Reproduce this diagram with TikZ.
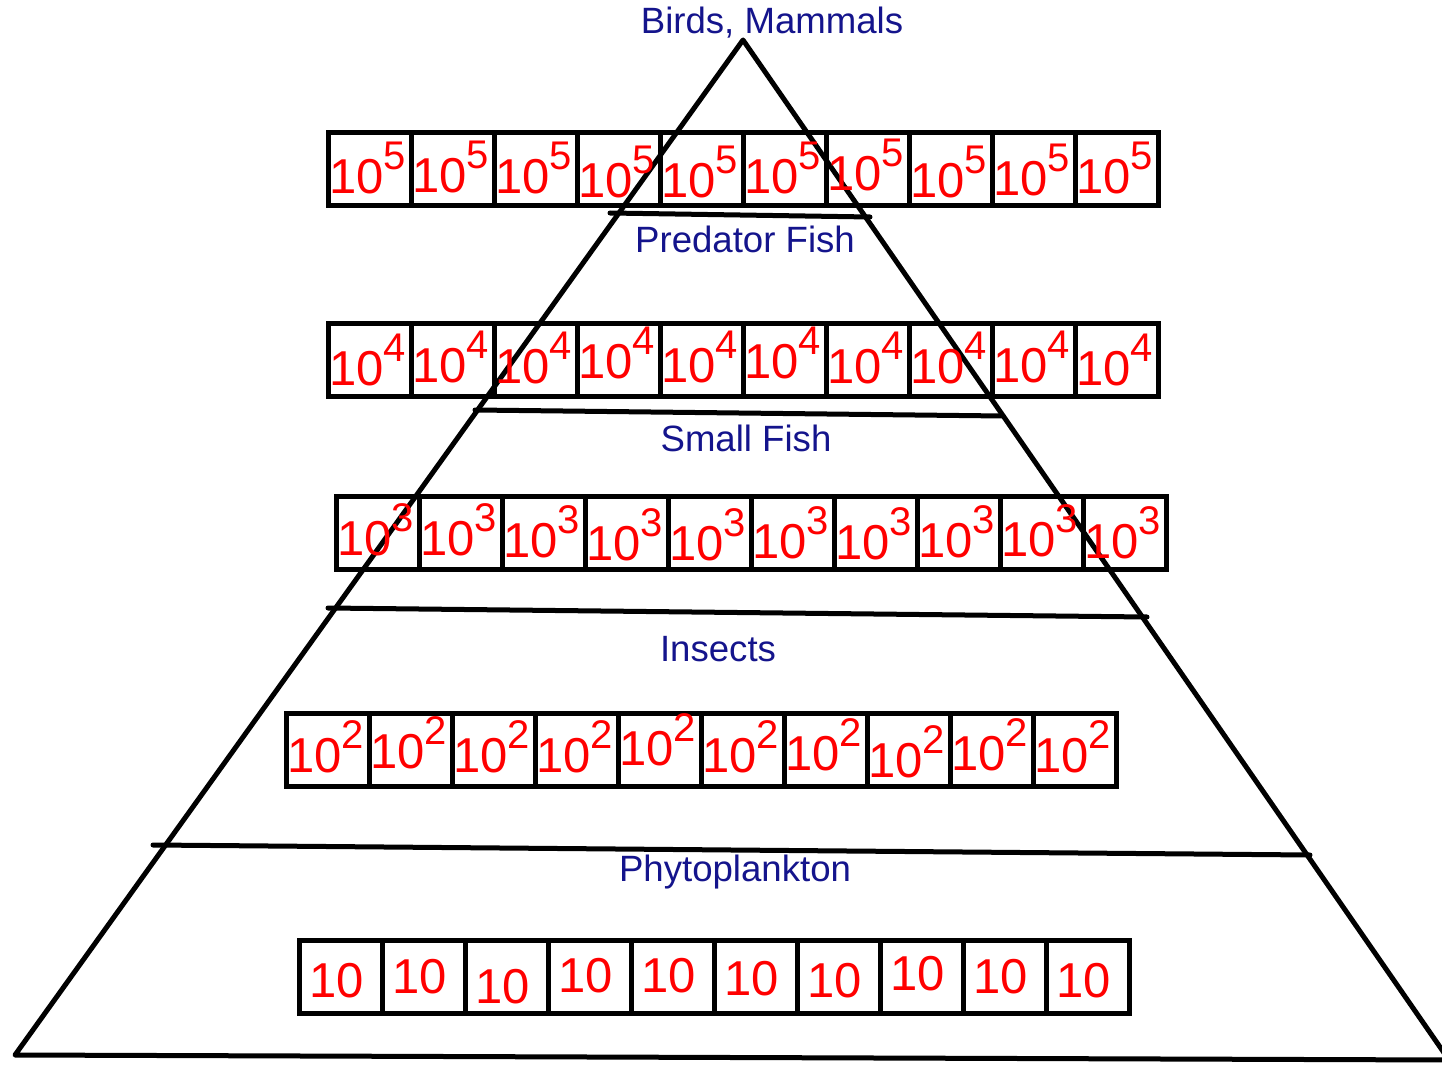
\documentclass[tikz,border=0pt]{standalone}
\usepackage{fontspec}
\setmainfont{Liberation Sans}
\usepackage{tikz}
\usetikzlibrary{positioning}
\usepackage{xcolor}
\definecolor{LabelBlue}{HTML}{14148C}
\definecolor{NumRed}{HTML}{FF0000}
\newcommand{\tenpow}[1]{{\fontsize{24.5}{24.5}\selectfont 10}\raisebox{12pt}{\fontsize{20}{20}\selectfont #1}}
\tikzset{
  cell/.style={draw,line width=2.5pt,minimum width=41.5pt,minimum height=36.5pt,inner sep=0pt},
  num/.style={NumRed,anchor=base west,inner sep=0pt},
  lbl/.style={LabelBlue,anchor=base,inner sep=0pt,font=\fontsize{18.3}{22}\selectfont},
  edge/.style={line width=2.5pt,line cap=round,line join=round}
}

\begin{document}
\begin{tikzpicture}[x=0.5pt,y=-0.5pt]
\useasboundingbox (0,0) rectangle (1442,1065);
% pyramid and level lines
\draw[edge] (743,40) -- (15,1055) -- (1449,1060) -- cycle;
\draw[edge] (610,213) -- (870,217);
\draw[edge] (475,410) -- (1003,416);
\draw[edge] (328,608) -- (1147,617);
\draw[edge] (153,845) -- (1310,855);
% level names
\node[lbl] (birds) at (772,34) {Birds, Mammals};
\node[lbl] (pred) at (745,253) {Predator Fish};
\node[lbl] (small) at (746,451) {Small Fish};
\node[lbl] (insects) at (718,661) {Insects};
\node[lbl] (phyto) at (735,881) {Phytoplankton};
% rows of boxes
\foreach \yb [count=\i from 0] in {193,192,193,198,198,193,191,198,196,193} {
  \node[cell] (five\i) at ({369.5+83*\i},169.5) {};
  \node[num] (tfive\i) at ({329+83*\i},\yb) {\tenpow{5}};
}
\foreach \yb [count=\i from 0] in {385,382,383,378,382,378,383,383,382,385} {
  \node[cell] (four\i) at ({369.5+83*\i},359.5) {};
  \node[num] (tfour\i) at ({329+83*\i},\yb) {\tenpow{4}};
}
\foreach \yb [count=\i from 0] in {555,555,557,560,560,558,559,557,556,558} {
  \node[cell] (three\i) at ({377.5+83*\i},532.5) {};
  \node[num] (tthree\i) at ({337+83*\i},\yb) {\tenpow{3}};
}
\foreach \yb [count=\i from 0] in {772,768,772,772,765,772,770,777,770,772} {
  \node[cell] (two\i) at ({327.5+83*\i},749.5) {};
  \node[num] (ttwo\i) at ({287+83*\i},\yb) {\tenpow{2}};
}
\foreach \yb [count=\i from 0] in {997,993,1003,992,992,995,997,990,993,997} {
  \node[cell] (one\i) at ({340.5+83*\i},977) {};
  \node[num] (tone\i) at ({309+83*\i},\yb) {\fontsize{24.5}{24.5}\selectfont 10};
}
\end{tikzpicture}
\end{document}
